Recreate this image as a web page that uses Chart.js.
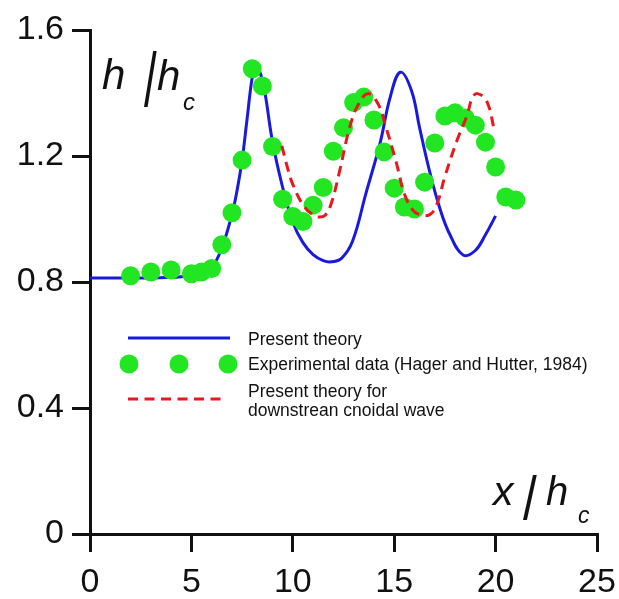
<!DOCTYPE html>
<html>
<head>
<meta charset="utf-8">
<script src="https://cdn.jsdelivr.net/npm/chart.js@4.4.1/dist/chart.umd.min.js"></script>
<style>
  html, body { margin: 0; padding: 0; background: #fff; }
  #wrap { position: relative; width: 619px; height: 599px; }
  #chart { position: absolute; left: 0; top: 0; }
  #overlay { position: absolute; left: 0; top: 0; pointer-events: none; }
  #overlay text { font-family: 'Liberation Sans', Arial, sans-serif; fill: #111; }
</style>
</head>
<body>
<div id="wrap">
  <canvas id="chart" width="619" height="599"></canvas>
  <svg id="overlay" width="619" height="599">
    <!-- подпись оси y -->
    <text x="102" y="89" font-size="42" font-style="italic">h</text>
    <text x="0" y="0" font-size="76" transform="translate(144,106) scale(0.6,1)">/</text>
    <text x="157" y="90" font-size="42" font-style="italic">h</text>
    <text x="183" y="110" font-size="24" font-style="italic">c</text>
    <!-- подпись оси x -->
    <text x="493" y="505" font-size="41" font-style="italic">x</text>
    <text x="0" y="0" font-size="62" transform="translate(523,519) scale(0.8,1)">/</text>
    <text x="546" y="505" font-size="40" font-style="italic">h</text>
    <text x="578" y="523" font-size="23" font-style="italic">c</text>
    <!-- легенда -->
    <line x1="128" y1="338" x2="230" y2="338" stroke="#1a1adb" stroke-width="3"/>
    <circle cx="129" cy="364" r="9.5" fill="#22e622"/>
    <circle cx="179" cy="364" r="9.5" fill="#22e622"/>
    <circle cx="228" cy="364" r="9.5" fill="#22e622"/>
    <line x1="128" y1="399" x2="225" y2="399" stroke="#e8191e" stroke-width="3" stroke-dasharray="10 6.5"/>
    <text x="248" y="345" font-size="17.5">Present theory</text>
    <text x="248" y="370" font-size="17.5">Experimental data (Hager and Hutter, 1984)</text>
    <text x="248" y="397" font-size="17.5">Present theory for</text>
    <text x="248" y="416" font-size="17.5">downstrean cnoidal wave</text>
  </svg>
</div>
<script>
// Present theory (сплошная синяя)
const theoryX = [0, 1, 2, 3, 4, 4.5, 5, 5.5, 6, 6.5, 7, 7.25, 7.5, 7.75, 8, 8.15, 8.35, 8.6, 9, 9.5, 10, 10.5, 11, 11.5, 11.9,
  12.4, 12.95, 13.6, 14.3, 14.8, 15.3, 15.85, 16.25, 16.75, 17.25, 17.75, 18.4, 19, 19.5, 20];
const theoryY = [0.813, 0.813, 0.813, 0.813, 0.815, 0.817, 0.82, 0.828, 0.845, 0.908, 1.015, 1.09, 1.187, 1.32, 1.45, 1.478, 1.47, 1.41, 1.245, 1.1, 0.99, 0.925, 0.887, 0.868, 0.864,
  0.875, 0.93, 1.08, 1.24, 1.386, 1.466, 1.408, 1.29, 1.15, 1.034, 0.95, 0.886, 0.9, 0.95, 1.01];

// Experimental data (Hager and Hutter, 1984)
const expX = [2, 3, 4, 5, 5.5, 6, 6.5, 7, 7.5, 8, 8.5, 9, 9.5, 10, 10.5, 11, 11.5, 12, 12.5, 13, 13.5, 14,
  14.5, 15, 15.5, 16, 16.5, 17, 17.5, 18, 18.5, 19, 19.5, 20, 20.5, 21];
const expY = [0.82, 0.832, 0.838, 0.826, 0.832, 0.843, 0.918, 1.02, 1.187, 1.477, 1.422, 1.23, 1.063, 1.008, 0.992, 1.044, 1.1, 1.215, 1.29, 1.37, 1.387, 1.314,
  1.213, 1.098, 1.038, 1.032, 1.117, 1.241, 1.327, 1.337, 1.321, 1.298, 1.244, 1.165, 1.07, 1.06];

// Present theory for downstrean cnoidal wave (красный пунктир)
const cnoidalX = [9.46, 9.75, 10, 10.5, 11, 11.3, 11.6, 11.9, 12.3, 12.8, 13.2, 13.7, 14.2, 14.6, 15.1, 15.5, 15.9, 16.25,
  16.75, 17.1, 17.5, 18.1, 18.6, 18.85, 19.1, 19.55, 19.95];
const cnoidalY = [1.232, 1.16, 1.11, 1.045, 1.013, 1.006, 1.012, 1.05, 1.15, 1.29, 1.36, 1.398, 1.366, 1.29, 1.18, 1.08, 1.03, 1.014,
  1.014, 1.046, 1.135, 1.25, 1.33, 1.385, 1.398, 1.376, 1.28];

const xTicks = [0, 5, 10, 15, 20, 25];
const yTicks = [0, 0.4, 0.8, 1.2, 1.6];

const toPoints = (xs, ys) => xs.map((x, i) => ({ x: x, y: ys[i] }));

const fontFamily = "'Liberation Sans', Arial, sans-serif";

new Chart(document.getElementById('chart'), {
    type: 'scatter',
    data: {
        datasets: [
            {
                label: 'Present theory for downstrean cnoidal wave',
                data: toPoints(cnoidalX, cnoidalY),
                showLine: true,
                borderColor: '#e8191e',
                borderWidth: 3,
                borderDash: [10, 6.5],
                pointRadius: 0,
                tension: 0.4,
                order: 0
            },
            {
                label: 'Experimental data (Hager and Hutter, 1984)',
                data: toPoints(expX, expY),
                backgroundColor: '#22e622',
                borderWidth: 0,
                pointRadius: 9.5,
                order: 1
            },
            {
                label: 'Present theory',
                data: toPoints(theoryX, theoryY),
                showLine: true,
                borderColor: '#1a1adb',
                borderWidth: 3,
                pointRadius: 0,
                tension: 0.4,
                order: 2
            }
        ]
    },
    options: {
        responsive: false,
        animation: false,
        layout: { padding: { top: 30, right: 22, left: 0, bottom: 0 } },
        plugins: {
            legend: { display: false },
            tooltip: { enabled: false }
        },
        scales: {
            x: {
                type: 'linear',
                min: 0,
                max: 25,
                afterBuildTicks: s => { s.ticks = xTicks.map(v => ({ value: v })); },
                afterFit: s => { s.height = 65; },
                grid: { drawOnChartArea: false, tickLength: 18, lineWidth: 3, color: '#111' },
                border: { color: '#111', width: 3 },
                // большой lineHeight опускает подписи, не раздвигая область графика
                ticks: { font: { family: fontFamily, size: 34, lineHeight: 1.67 }, color: '#111', padding: 2, maxRotation: 0 }
            },
            y: {
                type: 'linear',
                min: 0,
                max: 1.6,
                afterBuildTicks: s => { s.ticks = yTicks.map(v => ({ value: v })); },
                afterFit: s => { s.width = 90; },
                grid: { drawOnChartArea: false, tickLength: 18, lineWidth: 3, color: '#111' },
                border: { color: '#111', width: 3 },
                ticks: {
                    font: { family: fontFamily, size: 34 },
                    color: '#111',
                    padding: 8,
                    callback: v => v === 0 ? '0' : v.toFixed(1)
                }
            }
        }
    }
});
</script>
</body>
</html>
